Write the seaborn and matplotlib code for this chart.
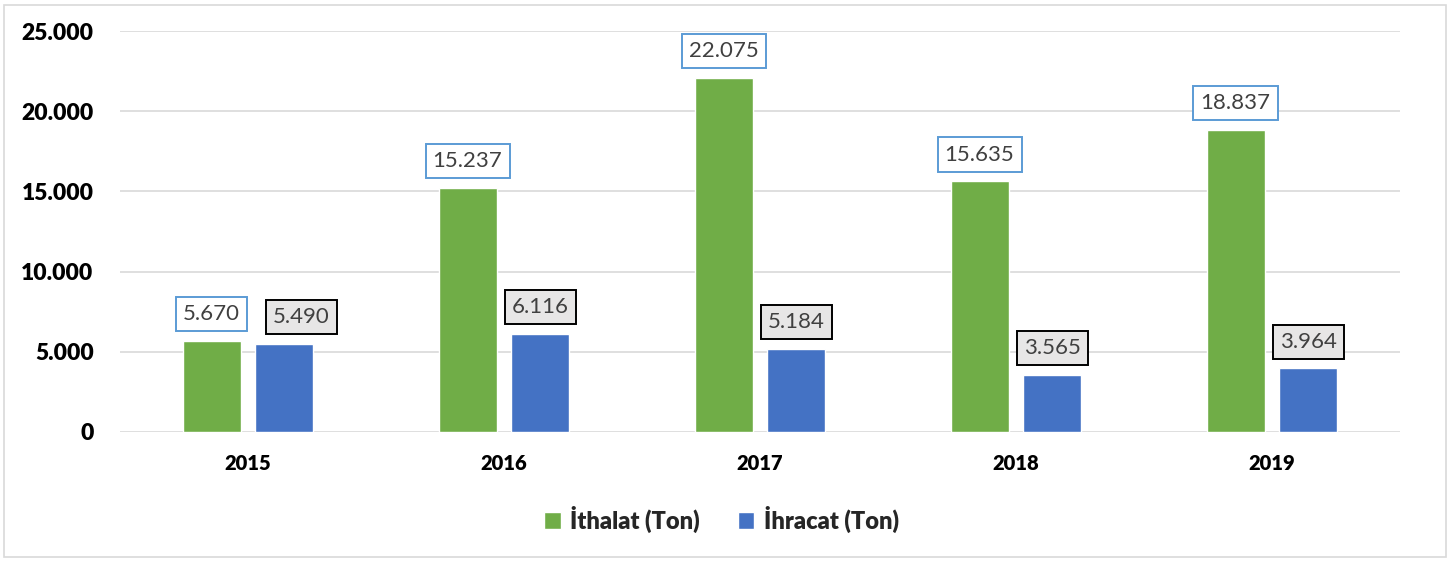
import matplotlib
matplotlib.use("Agg")
import matplotlib.pyplot as plt
import seaborn as sns
import pandas as pd
from matplotlib.ticker import FuncFormatter
from matplotlib.patches import Rectangle

years = ["2015", "2016", "2017", "2018", "2019"]
ithalat = [5670, 15237, 22075, 15635, 18837]
ihracat = [5490, 6116, 5184, 3565, 3964]
series_names = ["İthalat (Ton)", "İhracat (Ton)"]
colors = ["#70AD47", "#4472C4"]

df = pd.DataFrame({
    "Yıl": years * 2,
    "Değer": ithalat + ihracat,
    "Seri": [series_names[0]] * len(years) + [series_names[1]] * len(years),
})

sns.set_style("white")
plt.rcParams["font.family"] = ["Lato", "DejaVu Sans"]

fig = plt.figure(figsize=(14.51, 5.61), dpi=100)
ax = fig.add_axes([120 / 1451, 129 / 561, 1280 / 1451, 401 / 561])

sns.barplot(data=df, x="Yıl", y="Değer", hue="Seri", palette=colors,
            saturation=1, width=0.57, gap=0.205, ax=ax, legend=True)

ax.set_ylim(0, 25000)
ax.set_xlim(-0.5, len(years) - 0.5)
ax.set_yticks([0, 5000, 10000, 15000, 20000, 25000])
ax.yaxis.set_major_formatter(FuncFormatter(lambda v, p: f"{int(v):,}".replace(",", ".")))
ax.grid(axis="y", color="#D9D9D9", linewidth=1.2)
ax.set_axisbelow(True)
for s in ax.spines.values():
    s.set_visible(False)
ax.set_xlabel("")
ax.set_ylabel("")
ax.tick_params(axis="y", length=0, pad=19, labelsize=16.5)
ax.tick_params(axis="x", length=0, pad=16, labelsize=14.5)
for t in ax.get_yticklabels() + ax.get_xticklabels():
    t.set_fontweight("heavy")
    t.set_color("#000000")

box_styles = [
    dict(boxstyle="square,pad=0.32", fc="white", ec="#5B9BD5", lw=1.4),
    dict(boxstyle="square,pad=0.32", fc="#E7E6E6", ec="#000000", lw=1.4),
]
for ci, cont in enumerate(ax.containers):
    for bi, bar in enumerate(cont):
        h = bar.get_height()
        dx = 0
        if ci == 1 and abs(ithalat[bi] - ihracat[bi]) < 1500:
            dx = 12
        ax.annotate(f"{int(h):,}".replace(",", "."),
                    (bar.get_x() + bar.get_width() / 2, h),
                    xytext=(dx, 12), textcoords="offset points",
                    ha="center", va="bottom", fontsize=16, color="#404040",
                    bbox=box_styles[ci])

leg = ax.legend(loc="center", bbox_to_anchor=(0.470, -0.218), ncol=2, frameon=False,
                prop={"size": 17, "weight": "heavy"}, handlelength=0.7,
                handleheight=0.7, columnspacing=1.6, handletextpad=0.4)

fig.patches.append(Rectangle((4 / 1451, 4 / 561), 1442 / 1451, 552 / 561,
                             transform=fig.transFigure, fill=False,
                             ec="#D9D9D9", lw=1.2))

fig.savefig("out.png", dpi=100)
